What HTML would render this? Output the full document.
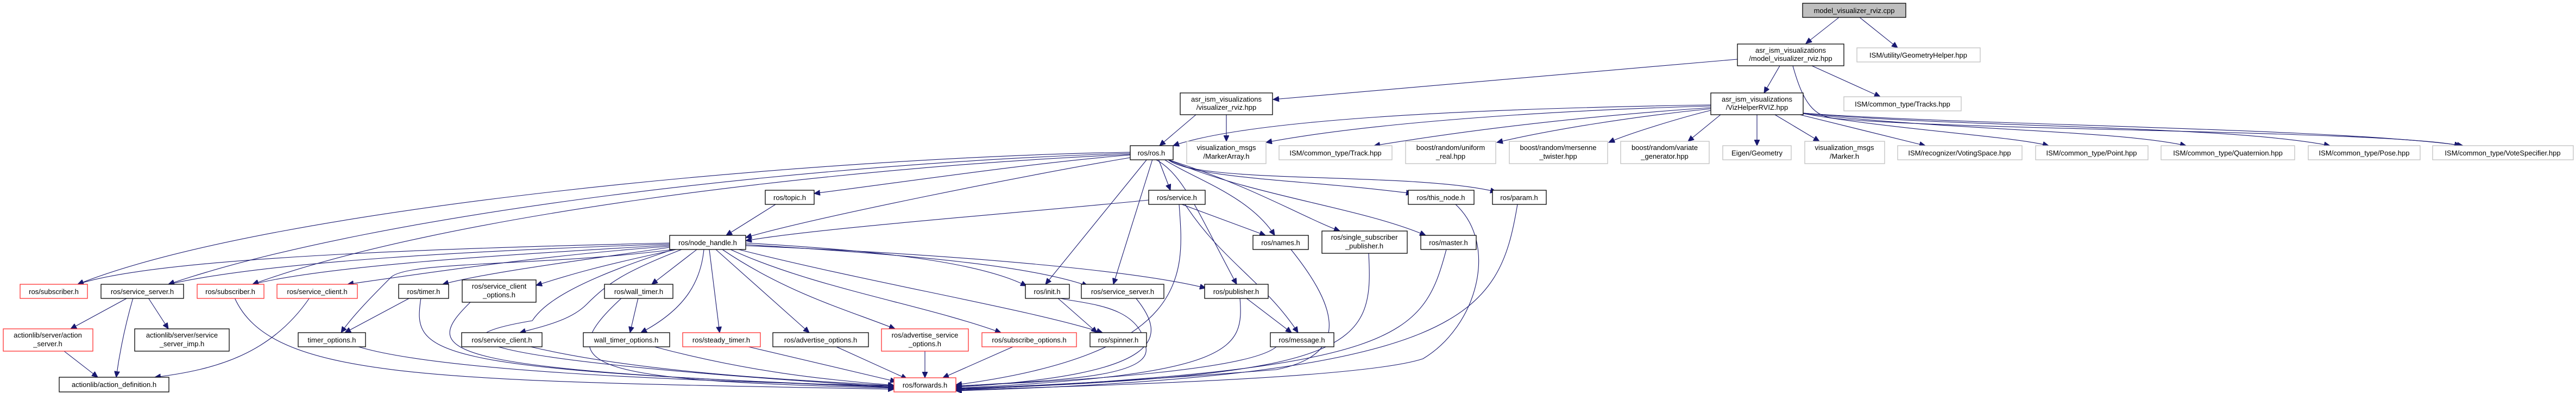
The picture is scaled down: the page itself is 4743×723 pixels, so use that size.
<!DOCTYPE html>
<html><head><meta charset="utf-8"><style>
html,body{margin:0;padding:0;background:#fff;}
svg{display:block;}
text{font-family:"Liberation Sans",sans-serif;font-size:13px;fill:#000;}
.b{fill:#fff;stroke:#000;stroke-width:1.3;}
.r{fill:#fff;stroke:#ff3030;stroke-width:1.3;}
.g{fill:#fff;stroke:#bfbfbf;stroke-width:1.3;}
.e path{fill:none;stroke:#191970;stroke-width:1.1;}
</style></head><body>
<svg width="4743" height="723" viewBox="0 0 4743 723" xmlns="http://www.w3.org/2000/svg">
<defs><marker id="a" markerUnits="userSpaceOnUse" markerWidth="12" markerHeight="10" refX="11" refY="5" orient="auto"><path d="M0,0 L11,5 L0,10 z" fill="#191970" stroke="#191970"/></marker></defs>
<g class="e" marker-end="url(#a)">
<path marker-end="url(#a)" d="M3386,32 L3325,80"/>
<path marker-end="url(#a)" d="M3424,32 L3494,88"/>
<path marker-end="url(#a)" d="M3199,109 L2344,183"/>
<path marker-end="url(#a)" d="M3277,121 L3248,171"/>
<path marker-end="url(#a)" d="M3336,121 L3462,178"/>
<path marker-end="url(#a)" d="M3301,121 C3320,190 3340,215 3380,218 C3600,240 4400,240 4530,268"/>
<path marker-end="url(#a)" d="M3150,193 C2700,200 2300,220 2160,268"/>
<path marker-end="url(#a)" d="M3150,195 C2800,205 2500,230 2331,262"/>
<path marker-end="url(#a)" d="M3150,198 C2900,215 2700,240 2530,268"/>
<path marker-end="url(#a)" d="M3150,200 C3000,215 2850,240 2756,262"/>
<path marker-end="url(#a)" d="M3150,203 C3100,215 3000,245 2962,262"/>
<path marker-end="url(#a)" d="M3168,211 L3108,260"/>
<path marker-end="url(#a)" d="M3235,211 L3235,268"/>
<path marker-end="url(#a)" d="M3268,211 L3350,260"/>
<path marker-end="url(#a)" d="M3314,211 L3545,268"/>
<path marker-end="url(#a)" d="M3320,209 C3500,240 3700,250 3772,268"/>
<path marker-end="url(#a)" d="M3320,209 C3600,240 3900,240 4025,268"/>
<path marker-end="url(#a)" d="M3320,208 C3600,235 4100,230 4290,268"/>
<path marker-end="url(#a)" d="M3320,208 C3600,230 4300,235 4535,268"/>
<path marker-end="url(#a)" d="M2202,211 L2135,268"/>
<path marker-end="url(#a)" d="M2258,211 L2258,260"/>
<path marker-end="url(#a)" d="M2081,285 C1900,300 1700,330 1499,356"/>
<path marker-end="url(#a)" d="M2081,290 C1900,320 1500,400 1373,437"/>
<path marker-end="url(#a)" d="M2081,280 C1500,290 500,380 143,523"/>
<path marker-end="url(#a)" d="M2081,282 C1500,300 700,390 310,523"/>
<path marker-end="url(#a)" d="M2081,284 C1500,310 800,400 465,523"/>
<path marker-end="url(#a)" d="M2133,293 L2155,350"/>
<path marker-end="url(#a)" d="M2150,293 C2200,330 2400,330 2600,356"/>
<path marker-end="url(#a)" d="M2150,293 C2200,340 2600,315 2755,353"/>
<path marker-end="url(#a)" d="M2143,293 C2200,330 2300,360 2347,433"/>
<path marker-end="url(#a)" d="M2148,293 C2300,340 2400,400 2467,425"/>
<path marker-end="url(#a)" d="M2150,293 C2300,360 2500,380 2625,433"/>
<path marker-end="url(#a)" d="M2112,293 L1925,523"/>
<path marker-end="url(#a)" d="M2122,293 L2050,523"/>
<path marker-end="url(#a)" d="M2127,293 C2180,320 2210,400 2277,523"/>
<path marker-end="url(#a)" d="M2115,368 C1900,390 1500,420 1373,443"/>
<path marker-end="url(#a)" d="M2176,376 L2330,433"/>
<path marker-end="url(#a)" d="M2182,376 C2250,480 2330,520 2390,612"/>
<path marker-end="url(#a)" d="M2171,376 C2180,500 2200,650 1760,708"/>
<path marker-end="url(#a)" d="M1428,376 L1337,433"/>
<path marker-end="url(#a)" d="M1233,447 C900,455 300,470 143,523"/>
<path marker-end="url(#a)" d="M1233,449 C900,460 500,480 310,523"/>
<path marker-end="url(#a)" d="M1233,451 C900,470 600,490 465,523"/>
<path marker-end="url(#a)" d="M1233,453 C1000,470 800,500 640,523"/>
<path marker-end="url(#a)" d="M1233,455 C1100,475 900,500 815,523"/>
<path marker-end="url(#a)" d="M1245,459 C1100,490 1050,505 987,525"/>
<path marker-end="url(#a)" d="M1283,459 L1200,523"/>
<path marker-end="url(#a)" d="M1240,459 C1000,490 750,480 720,510 C690,540 650,580 628,612"/>
<path marker-end="url(#a)" d="M1255,459 C1150,500 1120,520 1080,560 C1050,590 1000,600 957,612"/>
<path marker-end="url(#a)" d="M1296,459 C1290,520 1260,570 1180,612"/>
<path marker-end="url(#a)" d="M1306,459 L1325,612"/>
<path marker-end="url(#a)" d="M1318,459 L1490,612"/>
<path marker-end="url(#a)" d="M1330,459 C1450,540 1560,570 1648,605"/>
<path marker-end="url(#a)" d="M1345,459 C1500,530 1700,560 1843,612"/>
<path marker-end="url(#a)" d="M1360,459 C1600,520 1900,570 2030,612"/>
<path marker-end="url(#a)" d="M1373,447 C1600,460 1800,480 1890,526"/>
<path marker-end="url(#a)" d="M1373,450 C1700,470 1900,490 2003,526"/>
<path marker-end="url(#a)" d="M1373,452 C1800,470 2100,500 2220,530"/>
<path marker-end="url(#a)" d="M1240,459 C1050,520 1000,560 980,590 C800,620 820,660 1646,712"/>
<path marker-end="url(#a)" d="M235,548 L130,605"/>
<path marker-end="url(#a)" d="M273,548 L310,605"/>
<path marker-end="url(#a)" d="M245,548 C230,600 220,650 214,694"/>
<path marker-end="url(#a)" d="M118,646 L180,694"/>
<path marker-end="url(#a)" d="M570,548 C500,650 400,680 285,694"/>
<path marker-end="url(#a)" d="M755,548 L635,612"/>
<path marker-end="url(#a)" d="M775,548 C760,650 770,680 1646,712"/>
<path marker-end="url(#a)" d="M866,556 C770,650 800,680 1646,713"/>
<path marker-end="url(#a)" d="M1175,548 L1160,612"/>
<path marker-end="url(#a)" d="M1145,548 C1000,680 1100,700 1646,714"/>
<path marker-end="url(#a)" d="M432,548 C500,700 800,700 1646,716"/>
<path marker-end="url(#a)" d="M660,638 C800,680 1200,700 1646,710"/>
<path marker-end="url(#a)" d="M977,638 C1200,690 1500,700 1646,710"/>
<path marker-end="url(#a)" d="M1205,638 C1400,690 1550,700 1646,709"/>
<path marker-end="url(#a)" d="M1378,638 L1650,702"/>
<path marker-end="url(#a)" d="M1540,638 L1670,697"/>
<path marker-end="url(#a)" d="M1703,646 L1703,695"/>
<path marker-end="url(#a)" d="M1865,638 L1736,695"/>
<path marker-end="url(#a)" d="M1948,548 C2000,560 2100,560 2110,640 C2120,700 1900,700 1760,711"/>
<path marker-end="url(#a)" d="M1947,548 L2020,612"/>
<path marker-end="url(#a)" d="M2091,548 C2150,620 2150,690 1760,712"/>
<path marker-end="url(#a)" d="M2283,548 C2290,640 2280,690 1760,714"/>
<path marker-end="url(#a)" d="M2294,548 L2378,612"/>
<path marker-end="url(#a)" d="M2377,459 C2450,550 2500,650 2350,680 C2100,700 1900,710 1760,715"/>
<path marker-end="url(#a)" d="M2520,466 C2530,640 2500,690 1760,716"/>
<path marker-end="url(#a)" d="M2663,459 C2620,620 2580,680 1760,717"/>
<path marker-end="url(#a)" d="M2680,376 C2760,450 2720,600 2620,660 C2500,700 1900,712 1760,718"/>
<path marker-end="url(#a)" d="M2794,376 C2760,580 2700,690 1760,719"/>
<path marker-end="url(#a)" d="M2350,638 C2300,680 2000,700 1760,710"/>
</g>
<g text-anchor="middle">
<rect x="3319" y="6" width="190" height="26" fill="#bfbfbf" stroke="#000" stroke-width="1.3"/><text x="3414" y="24">model_visualizer_rviz.cpp</text>
<rect class="b" x="3199" y="81" width="196" height="40"/><text x="3297" y="97">asr_ism_visualizations</text><text x="3297" y="112">/model_visualizer_rviz.hpp</text>
<rect class="g" x="3419" y="88" width="227" height="26"/><text x="3532" y="106">ISM/utility/GeometryHelper.hpp</text>
<rect class="b" x="2173" y="171" width="170" height="40"/><text x="2258" y="187">asr_ism_visualizations</text><text x="2258" y="202">/visualizer_rviz.hpp</text>
<rect class="b" x="3150" y="171" width="170" height="40"/><text x="3235" y="187">asr_ism_visualizations</text><text x="3235" y="202">/VizHelperRVIZ.hpp</text>
<rect class="g" x="3395" y="178" width="216" height="26"/><text x="3503" y="196">ISM/common_type/Tracks.hpp</text>
<rect class="b" x="2081" y="268" width="79" height="26"/><text x="2120" y="286">ros/ros.h</text>
<rect class="g" x="2185" y="260" width="146" height="41"/><text x="2258" y="276">visualization_msgs</text><text x="2258" y="292">/MarkerArray.h</text>
<rect class="g" x="2355" y="268" width="208" height="26"/><text x="2459" y="286">ISM/common_type/Track.hpp</text>
<rect class="g" x="2588" y="260" width="166" height="41"/><text x="2671" y="276">boost/random/uniform</text><text x="2671" y="292">_real.hpp</text>
<rect class="g" x="2779" y="260" width="181" height="41"/><text x="2869" y="276">boost/random/mersenne</text><text x="2869" y="292">_twister.hpp</text>
<rect class="g" x="2984" y="260" width="163" height="41"/><text x="3065" y="276">boost/random/variate</text><text x="3065" y="292">_generator.hpp</text>
<rect class="g" x="3172" y="268" width="126" height="26"/><text x="3235" y="286">Eigen/Geometry</text>
<rect class="g" x="3323" y="260" width="147" height="41"/><text x="3396" y="276">visualization_msgs</text><text x="3396" y="292">/Marker.h</text>
<rect class="g" x="3494" y="268" width="229" height="26"/><text x="3608" y="286">ISM/recognizer/VotingSpace.hpp</text>
<rect class="g" x="3748" y="268" width="207" height="26"/><text x="3851" y="286">ISM/common_type/Point.hpp</text>
<rect class="g" x="3979" y="268" width="246" height="26"/><text x="4102" y="286">ISM/common_type/Quaternion.hpp</text>
<rect class="g" x="4250" y="268" width="206" height="26"/><text x="4353" y="286">ISM/common_type/Pose.hpp</text>
<rect class="g" x="4479" y="268" width="259" height="26"/><text x="4608" y="286">ISM/common_type/VoteSpecifier.hpp</text>
<rect class="b" x="1409" y="350" width="90" height="26"/><text x="1454" y="368">ros/topic.h</text>
<rect class="b" x="2115" y="350" width="104" height="26"/><text x="2167" y="368">ros/service.h</text>
<rect class="b" x="2593" y="350" width="121" height="26"/><text x="2653" y="368">ros/this_node.h</text>
<rect class="b" x="2748" y="350" width="99" height="26"/><text x="2797" y="368">ros/param.h</text>
<rect class="b" x="1233" y="433" width="140" height="26"/><text x="1303" y="451">ros/node_handle.h</text>
<rect class="b" x="2307" y="433" width="102" height="26"/><text x="2358" y="451">ros/names.h</text>
<rect class="b" x="2434" y="425" width="157" height="41"/><text x="2512" y="441">ros/single_subscriber</text><text x="2512" y="457">_publisher.h</text>
<rect class="b" x="2616" y="433" width="102" height="26"/><text x="2667" y="451">ros/master.h</text>
<rect class="r" x="37" y="523" width="124" height="26"/><text x="99" y="541">ros/subscriber.h</text>
<rect class="b" x="186" y="523" width="152" height="26"/><text x="262" y="541">ros/service_server.h</text>
<rect class="r" x="363" y="523" width="123" height="26"/><text x="424" y="541">ros/subscriber.h</text>
<rect class="r" x="510" y="523" width="148" height="26"/><text x="584" y="541">ros/service_client.h</text>
<rect class="b" x="734" y="523" width="92" height="26"/><text x="780" y="541">ros/timer.h</text>
<rect class="b" x="851" y="515" width="136" height="41"/><text x="919" y="531">ros/service_client</text><text x="919" y="547">_options.h</text>
<rect class="b" x="1113" y="523" width="126" height="26"/><text x="1176" y="541">ros/wall_timer.h</text>
<rect class="b" x="1888" y="523" width="81" height="26"/><text x="1928" y="541">ros/init.h</text>
<rect class="b" x="1991" y="523" width="152" height="26"/><text x="2067" y="541">ros/service_server.h</text>
<rect class="b" x="2218" y="523" width="117" height="26"/><text x="2276" y="541">ros/publisher.h</text>
<rect class="r" x="6" y="605" width="165" height="41"/><text x="88" y="621">actionlib/server/action</text><text x="88" y="637">_server.h</text>
<rect class="b" x="248" y="605" width="174" height="41"/><text x="335" y="621">actionlib/server/service</text><text x="335" y="637">_server_imp.h</text>
<rect class="b" x="549" y="612" width="124" height="26"/><text x="611" y="630">timer_options.h</text>
<rect class="b" x="850" y="612" width="148" height="26"/><text x="924" y="630">ros/service_client.h</text>
<rect class="b" x="1074" y="612" width="159" height="26"/><text x="1153" y="630">wall_timer_options.h</text>
<rect class="r" x="1257" y="612" width="143" height="26"/><text x="1328" y="630">ros/steady_timer.h</text>
<rect class="b" x="1423" y="612" width="176" height="26"/><text x="1511" y="630">ros/advertise_options.h</text>
<rect class="r" x="1623" y="605" width="160" height="41"/><text x="1703" y="621">ros/advertise_service</text><text x="1703" y="637">_options.h</text>
<rect class="r" x="1808" y="612" width="174" height="26"/><text x="1895" y="630">ros/subscribe_options.h</text>
<rect class="b" x="2007" y="612" width="104" height="26"/><text x="2059" y="630">ros/spinner.h</text>
<rect class="b" x="2339" y="612" width="117" height="26"/><text x="2397" y="630">ros/message.h</text>
<rect class="b" x="109" y="694" width="202" height="27"/><text x="210" y="712">actionlib/action_definition.h</text>
<rect class="r" x="1646" y="695" width="114" height="26"/><text x="1703" y="713">ros/forwards.h</text>
</g>
</svg>
</body></html>
